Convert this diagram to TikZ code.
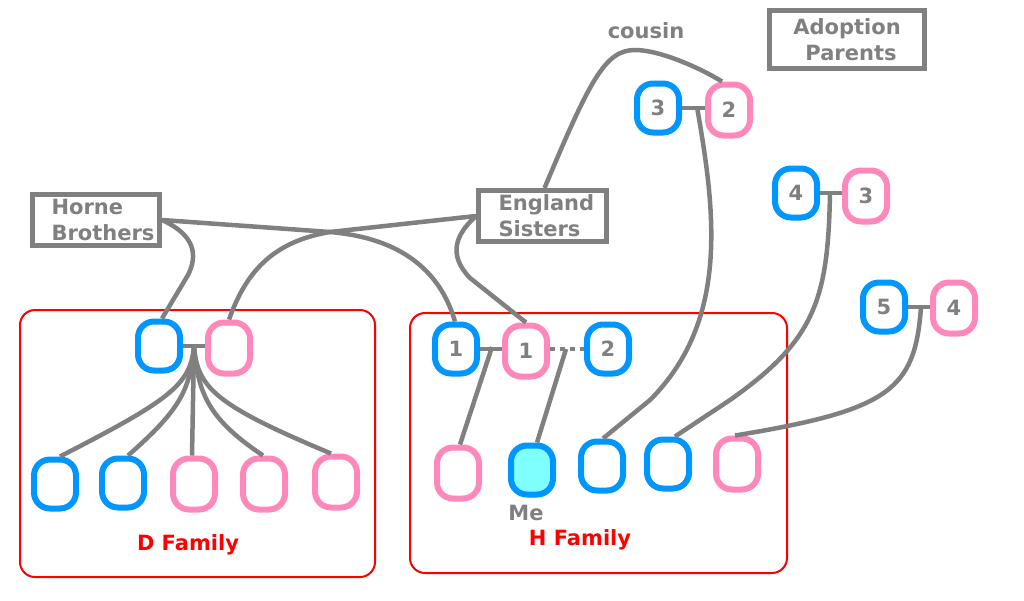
\documentclass[tikz,border=0pt]{standalone}
\usepackage{fontspec}
\setmainfont{DejaVu Sans}
\definecolor{pblue}{RGB}{0,150,255}
\definecolor{ppink}{RGB}{255,136,187}
\definecolor{tgray}{RGB}{128,128,128}
\definecolor{pcyan}{RGB}{128,255,255}
\begin{document}
\begin{tikzpicture}[x=1pt,y=-1pt,
  lab/.style={font=\bfseries\fontsize{21}{26}\selectfont, text=tgray},
  person/.style={lab, line width=6pt, rounded corners=16pt, minimum width=42pt, inner sep=0pt},
  man/.style={person, draw=pblue, minimum height=49pt},
  woman/.style={person, draw=ppink, minimum height=51pt},
  link/.style={draw=tgray, line width=4.5pt},
  namebox/.style={lab, draw=tgray, line width=5pt, align=left, inner sep=0pt, minimum height=51pt},
  famframe/.style={draw=red, line width=2pt, rounded corners=15pt},
  famlabel/.style={font=\bfseries\fontsize{21}{24}\selectfont, text=red}]
\useasboundingbox (0,0) rectangle (1024,600);

% family frames
\draw[famframe] (20,310) rectangle (375,577);
\draw[famframe] (410,313) rectangle (787,573);
\node[famlabel] (dlab) at (188,545) {D Family};
\node[famlabel] (hlab) at (580,540) {H Family};

% name boxes
\node[namebox, minimum width=127pt, text width=127pt] (hb) at (96,220) {\hspace*{19pt}Horne\\\hspace*{19pt}Brothers};
\node[namebox, minimum width=128pt, text width=128pt] (es) at (542.5,216) {\hspace*{20pt}England\\\hspace*{20pt}Sisters};
\node[namebox, minimum width=155pt, minimum height=58pt, align=center] (ap) at (847,39.5) {Adoption\\\hspace*{8pt}Parents};
\node[lab] (cous) at (646,31) {cousin};

% D family
\node[man] (d1) at (159,346) {};
\node[woman] (d2) at (229,348) {};
\coordinate (dm) at (194,347);
\node[man] (dc1) at (55,484) {};
\node[man] (dc2) at (123,483) {};
\node[woman] (dc3) at (194,484) {};
\node[woman] (dc4) at (264,484) {};
\node[woman] (dc5) at (336,482) {};

% H family
\node[man] (h1) at (456,349) {1};
\node[woman] (h2) at (526,351) {1};
\node[man] (h3) at (608,349) {2};
\coordinate (hm) at (492,347);
\coordinate (hd) at (566,349);
\node[woman] (hc1) at (458,473) {};
\node[man, fill=pcyan] (me) at (532,470) {};
\node[man] (hc3) at (602,466) {};
\node[man] (hc4) at (668,464) {};
\node[woman] (hc5) at (737,464) {};
\node[lab] (melab) at (526,513) {Me};

% top right couples
\node[man] (t1) at (658,108) {3};
\node[woman] (t2) at (729,110) {2};
\coordinate (tm) at (697,107);
\node[man] (t3) at (796,193) {4};
\node[woman] (t4) at (866,196) {3};
\coordinate (tm2) at (830,193);
\node[man] (t5) at (884,307) {5};
\node[woman] (t6) at (954,308) {4};
\coordinate (tm3) at (921,307);

% marriages
\draw[link] (d1.east) -- (d2.west |- d1.east);
\draw[link] (h1.east) -- (h2.west |- h1.east);
\draw[link, dash pattern=on 5pt off 5pt] (h2.east |- h3.west) -- (h3.west);
\draw[link] (t1.east) -- (t2.west |- t1.east);
\draw[link] (t3.east) -- (t4.west |- t3.east);
\draw[link] (t5.east) -- (t6.west |- t5.east);

% D children
\draw[link] (dm) .. controls (190,385) and (170,400) .. ([xshift=5pt]dc1.north);
\draw[link] (dm) .. controls (190,390) and (180,410) .. ([xshift=5pt]dc2.north);
\draw[link] (dm) -- ([xshift=-2pt]dc3.north);
\draw[link] (dm) .. controls (198,395) and (210,420) .. ([xshift=-1pt]dc4.north);
\draw[link] (dm) .. controls (198,388) and (215,405) .. ([xshift=-5pt]dc5.north);

% H children
\draw[link] (hm) -- ([xshift=2pt]hc1.north);
\draw[link] (hd) -- ([xshift=5pt]me.north);
\draw[link] (tm) .. controls (715,210) and (730,320) .. (650,400) -- ([xshift=1pt]hc3.north);
\draw[link] (tm2) .. controls (828,300) and (815,340) .. (730,400) -- ([xshift=7pt]hc4.north);
\draw[link] (tm3) .. controls (915,390) and (890,410) .. ([xshift=-2pt]hc5.north);

% ancestry
\draw[link] (hb.east) .. controls (195,235) and (198,255) .. (188,275) -- ([xshift=3pt]d1.north);
\draw[link] (hb.east) -- (330,232) .. controls (400,238) and (440,270) .. ([xshift=-1pt]h1.north);
\draw[link] (es.west) -- (330,232) .. controls (270,242) and (245,275) .. (d2.north);
\draw[link] (es.west) .. controls (455,235) and (448,255) .. (470,278) -- (h2.north);
\draw[link] ([xshift=2pt]es.north) .. controls (590,80) and (605,50) .. (635,50) .. controls (660,50) and (700,68) .. ([xshift=-7pt]t2.north);
\end{tikzpicture}
\end{document}
